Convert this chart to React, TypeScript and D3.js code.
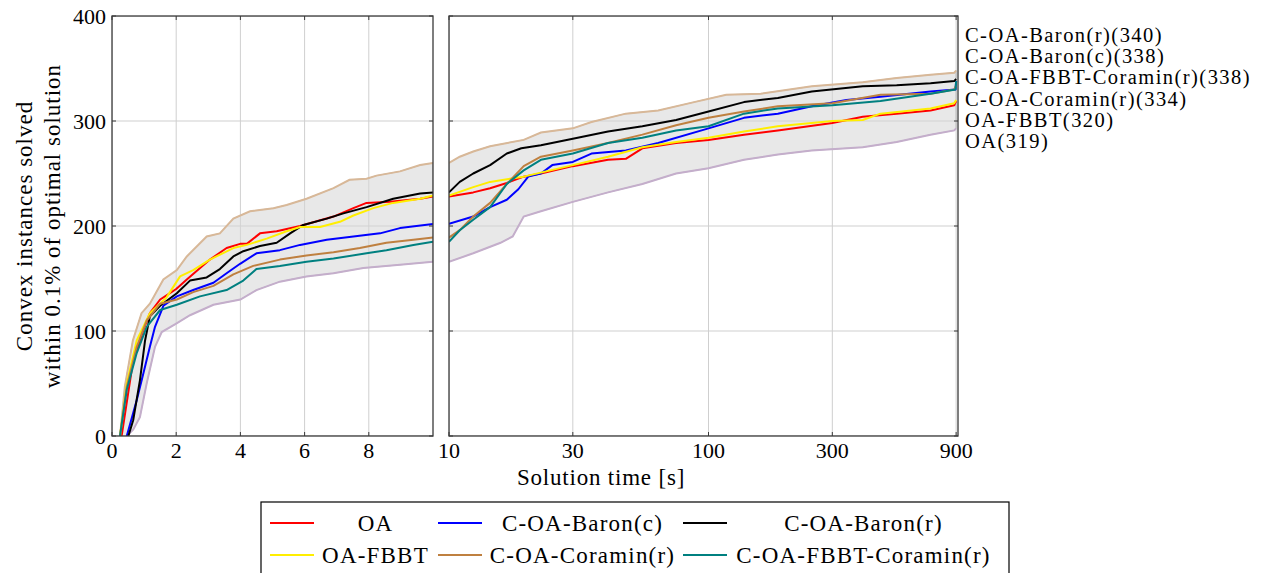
import React from "react";
import * as d3 from "d3";

type Pt = [number, number];

// ---- data (time [s], instances solved) ----
const upperBound: Pt[] = [[0.25,0],[0.4,47],[0.65,91],[0.92,117],[1.18,126],[1.6,149],[2.02,158],[2.33,171],[2.95,190],[3.36,193],[3.78,207],[4.3,214],[5.03,217],[5.44,220],[6.06,226],[6.9,236],[7.4,244],[7.93,245],[8.24,248],[8.97,252],[9.6,258],[10,260],[11,266],[12.4,271],[14.4,276],[19.4,282],[22.6,289],[30,293],[35.4,299],[48,307],[64,310],[88,318],[117,325],[159,326],[250,333],[393,337],[531,341],[717,344],[885,346],[900,348]];
const lowerBound: Pt[] = [[0.46,0],[0.66,6],[0.87,18],[1.08,50],[1.34,85],[1.55,99],[2.0,107],[2.43,115],[3.16,125],[4.0,130],[4.5,139],[5.23,147],[6.06,152],[6.9,155],[7.83,160],[8.97,163],[10,166],[12.4,174],[15.8,184],[17.6,190],[19.4,209],[22.6,214],[30,223],[41,232],[55.6,240],[75,250],[100,255],[137,263],[185,268],[250,272],[393,275],[531,280],[717,287],[885,291],[900,293]];

const oa: Pt[] = [[0.3,0],[0.66,72],[0.98,101],[1.18,117],[1.5,130],[1.7,134],[2.0,140],[2.33,149],[3.05,168],[3.57,179],[3.99,183],[4.2,183],[4.61,193],[5.13,195],[5.86,200],[6.9,209],[7.52,217],[7.93,222],[8.66,223],[9.6,226],[10,228],[12.4,232],[14.4,236],[16.7,241],[19.4,247],[22.6,250],[30,257],[41,263],[48,264],[55.6,274],[75,279],[100,282],[137,287],[185,291],[300,298],[393,304],[531,307],[717,310],[885,315],[900,319]];
const oaFbbt: Pt[] = [[0.25,0],[0.46,50],[0.77,91],[1.18,117],[1.7,132],[2.12,152],[2.53,158],[3.05,168],[3.78,179],[4.2,182],[4.82,188],[5.44,195],[5.86,199],[6.48,199],[7.1,204],[7.52,210],[8.14,217],[8.76,222],[9.6,226],[10,229],[12.4,237],[14.4,242],[19.4,247],[30,258],[41,266],[55.6,275],[75,280],[100,284],[137,290],[185,295],[300,300],[393,301],[460,307],[717,312],[885,317],[900,320]];
const baronR: Pt[] = [[0.51,0],[0.66,15],[0.87,53],[1.03,91],[1.18,114],[1.5,124],[2.02,136],[2.43,148],[2.95,151],[3.36,159],[3.78,171],[4.09,176],[4.61,181],[5.13,184],[5.55,193],[5.96,201],[6.69,207],[7.21,212],[7.93,218],[8.76,226],[9.6,231],[10,232],[11,242],[12.4,250],[14.4,258],[16.7,269],[19,274],[22.6,277],[30,283],[41,290],[55.6,295],[75,301],[100,309],[137,318],[185,322],[250,328],[393,333],[531,334],[717,336],[885,338],[900,340]];
const baronC: Pt[] = [[0.46,0],[0.77,34],[0.98,60],[1.18,85],[1.34,104],[1.6,124],[2.02,133],[2.53,139],[3.16,146],[3.57,155],[3.99,164],[4.5,174],[5.23,177],[5.86,182],[6.69,187],[7.52,190],[8.35,193],[8.97,198],[10,202],[12.4,209],[14.4,218],[16.7,225],[18.5,235],[20.2,247],[22.6,250],[25,258],[30,261],[35.4,269],[48,272],[64,279],[100,293],[137,303],[185,307],[250,314],[340,320],[460,323],[717,328],[895,330],[900,338]];
const coraminR: Pt[] = [[0.25,0],[0.46,47],[0.77,85],[1.08,110],[1.5,126],[2.02,130],[2.53,137],[3.16,143],[3.78,154],[4.4,162],[5.23,168],[6.06,172],[6.9,175],[7.72,179],[8.55,184],[9.39,187],[10,189],[11,196],[12.4,209],[14.4,222],[16.7,240],[19.4,257],[22.6,266],[30,272],[41,279],[55.6,287],[75,296],[100,303],[137,309],[185,314],[300,317],[460,325],[717,326],[885,330],[900,334]];
const fbbtCoraminR: Pt[] = [[0.25,0],[0.46,44],[0.77,79],[1.08,104],[1.5,120],[2.02,125],[2.74,133],[3.57,139],[4.09,148],[4.5,159],[5.23,162],[6.06,166],[6.9,169],[7.93,174],[8.55,177],[9.39,182],[10,185],[11,196],[12.4,206],[14.4,218],[16.7,240],[19.4,253],[22.6,263],[30,269],[41,279],[55.6,284],[75,291],[100,295],[137,307],[185,312],[300,315],[460,319],[717,326],[895,330],[900,338]];

const seriesNames = ["OA", "C-OA-Baron(c)", "C-OA-Baron(r)", "OA-FBBT", "C-OA-Coramin(r)", "C-OA-FBBT-Coramin(r)"];
const seriesColors = ["#ff0000", "#0000ff", "#000000", "#ffee00", "#bf8040", "#008080"];
const seriesData = [oa, baronC, baronR, oaFbbt, coraminR, fbbtCoraminR];

const finalLabels = ["C-OA-Baron(r)(340)", "C-OA-Baron(c)(338)", "C-OA-FBBT-Coramin(r)(338)", "C-OA-Coramin(r)(334)", "OA-FBBT(320)", "OA(319)"];

const leftTicks = [0, 2, 4, 6, 8];
const rightTicks = [10, 30, 100, 300, 900];
const yTicks = [0, 100, 200, 300, 400];

const FONT = "Liberation Serif, DejaVu Serif, serif";

export default function App() {
  const top = 16, bottom = 436;
  const xL = d3.scaleLinear().domain([0, 10]).range([112, 433]);
  const xR = d3.scaleLog().domain([10, 915]).range([449, 958]);
  const y = d3.scaleLinear().domain([0, 400]).range([bottom, top]);

  const lineL = d3.line<Pt>().x((d) => xL(d[0])).y((d) => y(d[1]));
  const lineR = d3.line<Pt>().x((d) => xR(d[0])).y((d) => y(d[1]));
  const inL = (pts: Pt[]) => pts.filter((p) => p[0] <= 10);
  const inR = (pts: Pt[]) => pts.filter((p) => p[0] >= 10);

  const bandL = lineL([...inL(upperBound), ...inL(lowerBound).slice().reverse()]) + "Z";
  const bandR = lineR([...inR(upperBound), ...inR(lowerBound).slice().reverse()]) + "Z";

  const gridC = "#cfcfcf";
  const frameC = "#3a3a3a";
  const tickLen = 4;

  const panel = (
    key: string,
    x: any,
    xTicks: number[],
    x0: number,
    x1: number,
    line: any,
    filt: (p: Pt[]) => Pt[],
    band: string
  ) => (
    <g key={key}>
      <defs>
        <clipPath id={"clip" + key}>
          <rect x={x0} y={top} width={x1 - x0} height={bottom - top} />
        </clipPath>
      </defs>
      <g clipPath={`url(#clip${key})`}>
        {xTicks.map((t) => (
          <line key={"gx" + t} x1={x(t)} x2={x(t)} y1={top} y2={bottom} stroke={gridC} strokeWidth={1} />
        ))}
        {yTicks.map((t) => (
          <line key={"gy" + t} x1={x0} x2={x1} y1={y(t)} y2={y(t)} stroke={gridC} strokeWidth={1} />
        ))}
        <path d={band} fill="#d6d6d6" fillOpacity={0.55} stroke="#b8b8b8" strokeWidth={1} />
        <path d={line(filt(upperBound))} fill="none" stroke="#d8b898" strokeWidth={2} />
        <path d={line(filt(lowerBound))} fill="none" stroke="#c4aecb" strokeWidth={2} />
        {seriesData.map((s, i) => (
          <path key={i} d={line(filt(s))} fill="none" stroke={seriesColors[i]} strokeWidth={2} strokeLinejoin="round" />
        ))}
      </g>
      {xTicks.map((t) => (
        <g key={"tx" + t}>
          <line x1={x(t)} x2={x(t)} y1={bottom} y2={bottom - tickLen} stroke={frameC} strokeWidth={1} />
          <line x1={x(t)} x2={x(t)} y1={top} y2={top + tickLen} stroke={frameC} strokeWidth={1} />
        </g>
      ))}
      {yTicks.map((t) => (
        <g key={"ty" + t}>
          <line x1={x0} x2={x0 + tickLen} y1={y(t)} y2={y(t)} stroke={frameC} strokeWidth={1} />
          <line x1={x1} x2={x1 - tickLen} y1={y(t)} y2={y(t)} stroke={frameC} strokeWidth={1} />
        </g>
      ))}
      <rect x={x0} y={top} width={x1 - x0} height={bottom - top} fill="none" stroke={frameC} strokeWidth={1.3} />
      {xTicks.map((t) => (
        <text key={"lx" + t} x={x(t)} y={450} textAnchor="middle" dominantBaseline="central" fontSize={22} style={{ fontFamily: FONT }}>
          {t}
        </text>
      ))}
    </g>
  );

  const legendRows = [523, 555];
  const legendLineX = [[270, 314], [438, 482], [683, 727]];
  const legendTextX = [375.5, 582.5, 863.5];

  return (
    <svg
      width={1265}
      height={573}
      style={{ position: "absolute", left: 0, top: 0, display: "block", background: "#fff", fontFamily: FONT }}
    >
      {panel("L", xL, leftTicks, 112, 433, lineL, inL, bandL)}
      {panel("R", xR, rightTicks, 449, 958, lineR, inR, bandR)}

      {yTicks.map((t) => (
        <text key={"ly" + t} x={106} y={y(t)} textAnchor="end" dominantBaseline="central" fontSize={22} style={{ fontFamily: FONT }}>
          {t}
        </text>
      ))}

      <text transform="translate(24,226) rotate(-90)" textAnchor="middle" dominantBaseline="central" fontSize={23} letterSpacing={1} style={{ fontFamily: FONT }}>
        Convex instances solved
      </text>
      <text transform="translate(52,226) rotate(-90)" textAnchor="middle" dominantBaseline="central" fontSize={23} letterSpacing={1} style={{ fontFamily: FONT }}>
        within 0.1% of optimal solution
      </text>

      <text x={601} y={477} textAnchor="middle" dominantBaseline="central" fontSize={23} letterSpacing={0.8} style={{ fontFamily: FONT }}>
        Solution time [s]
      </text>

      {finalLabels.map((l, i) => (
        <text key={l} x={965} y={35 + i * 21.2} dominantBaseline="central" fontSize={20.5} letterSpacing={1.45} style={{ fontFamily: FONT }}>
          {l}
        </text>
      ))}

      <rect x={261} y={502} width={748} height={100} fill="#fff" stroke="#000" strokeWidth={1.2} />
      {seriesNames.map((n, i) => {
        const row = Math.floor(i / 3);
        const col = i % 3;
        const yy = legendRows[row];
        return (
          <g key={n}>
            <line x1={legendLineX[col][0]} x2={legendLineX[col][1]} y1={yy} y2={yy} stroke={seriesColors[i]} strokeWidth={2} />
            <text x={legendTextX[col]} y={yy} textAnchor="middle" dominantBaseline="central" fontSize={23} letterSpacing={1.2} style={{ fontFamily: FONT }}>
              {n}
            </text>
          </g>
        );
      })}
    </svg>
  );
}
